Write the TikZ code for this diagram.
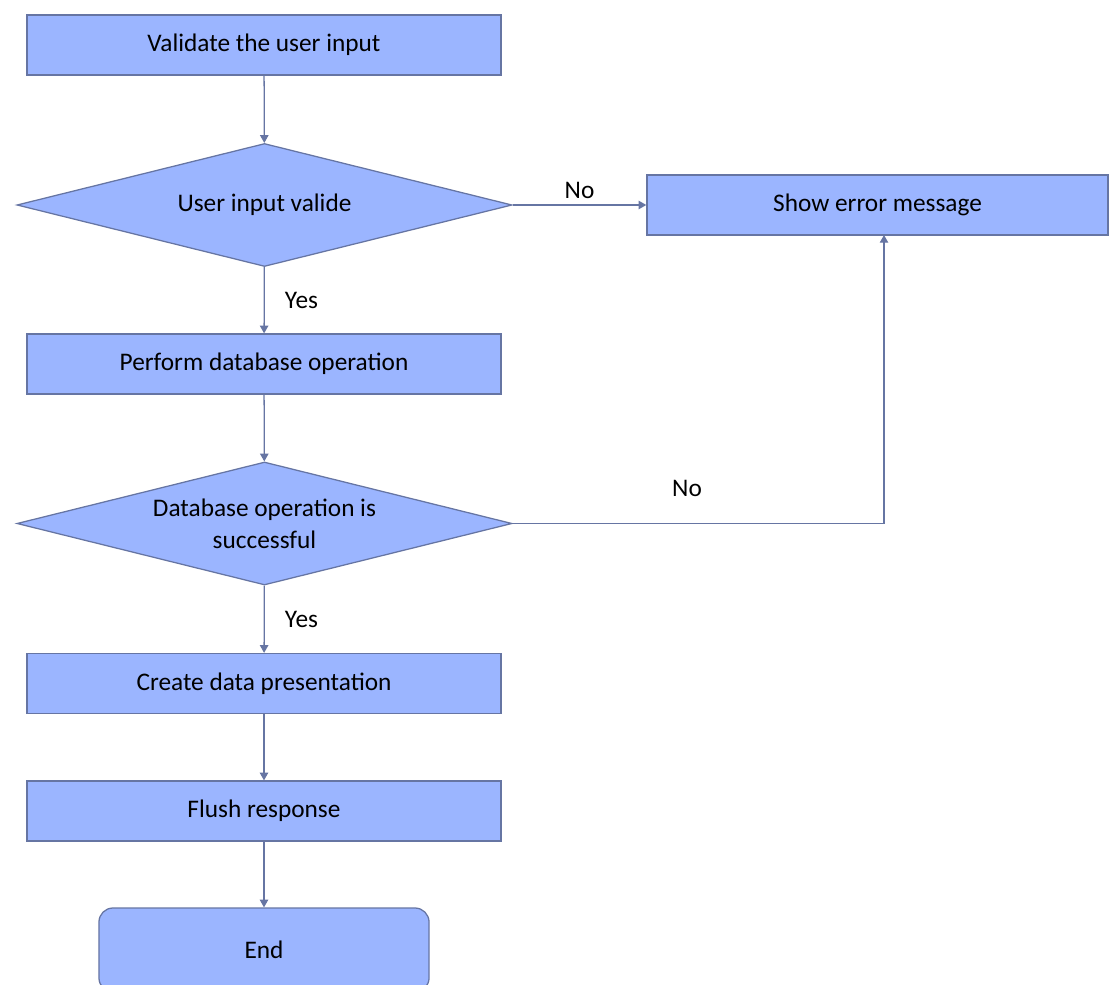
\documentclass[tikz,border=0pt]{standalone}
\usepackage{fontspec}
\setmainfont{Carlito}
\usetikzlibrary{shapes.geometric}
\usetikzlibrary{arrows.meta}
\definecolor{boxfill}{RGB}{155,181,255}
\definecolor{boxline}{RGB}{102,117,163}

\begin{document}
\begin{tikzpicture}[x=0.025cm, y=-0.025cm,
  font=\fontsize{18}{22.7}\selectfont,
  stepbox/.style={rectangle, draw=boxline, fill=boxfill, line width=0.9pt,
    minimum width=11.85cm, minimum height=1.5cm, inner sep=0pt},
  decision/.style={diamond, aspect=4.02, draw=boxline, fill=boxfill, line width=0.9pt,
    minimum width=12.375cm, minimum height=3.075cm, inner sep=0pt, align=center},
  flow/.style={draw=boxline, line width=0.9pt, -{Triangle[width=6pt,length=5.5pt]}},
]

\useasboundingbox (0,0) rectangle (1110,985);

%---------------------------------------
% Main column
%---------------------------------------
\node[stepbox] (validate) at (264,45) {Validate the user input};
\node[decision] (isvalid) at (264.5,205) {User input valide};
\node[stepbox] (dbop) at (264,364) {Perform database operation};
\node[decision] (isok) at (264.5,523.5) {Database operation is\\successful};
\node[stepbox] (present) at (264,683.5) {Create data presentation};
\node[stepbox] (flush) at (264,811) {Flush response};
\node[stepbox, rounded corners=10pt, minimum width=8.25cm, minimum height=2.1cm]
  (endbox) at (264,950) {End};

%---------------------------------------
% Error branch
%---------------------------------------
\node[stepbox, minimum width=11.525cm] (showerr) at (877.5,205) {Show error message};
\coordinate (errin) at (884,235);

%---------------------------------------
% Connectors
%---------------------------------------
\draw[flow] (validate) -- (isvalid);
\draw[flow] (isvalid) -- (dbop) node[midway, right, xshift=11pt] (yes1) {Yes};
\draw[flow] (isvalid) -- (showerr) node[midway, above, yshift=1pt] (no1) {No};
\draw[flow] (dbop) -- (isok);
\draw[flow] (isok) -- (present) node[midway, right, xshift=11pt] (yes2) {Yes};
\draw[flow] (isok.east) -| (errin);
\node (no2) at (687,488) {No};
\draw[flow] (present) -- (flush);
\draw[flow] (flush) -- (endbox);

\end{tikzpicture}
\end{document}
